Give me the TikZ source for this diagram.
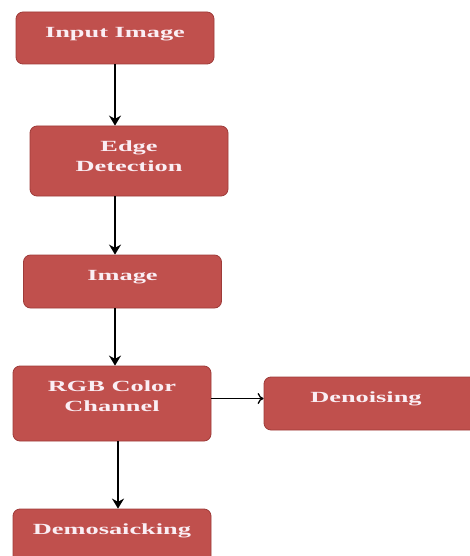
\documentclass[tikz,border=0pt]{standalone}
\usepackage{fontspec}
\usepackage{xcolor}
\usepackage{tikz}
\usetikzlibrary{arrows.meta,positioning}
\newfontfamily\boxfont[FakeStretch=1.7]{Liberation Serif}
\definecolor{boxred}{HTML}{C0504D}
\definecolor{boxedge}{HTML}{9E3B39}
\definecolor{boxtext}{HTML}{FAEEF4}

\begin{document}
\begin{tikzpicture}[x=1pt, y=-1pt,
  main/.style = {draw=boxedge, fill=boxred, line width=0.8pt, rounded corners=7pt, minimum width=198pt},
  txt/.style = {anchor=north, yshift=-12pt, align=center, text=boxtext, font=\boxfont\bfseries\fontsize{15.5}{20}\selectfont},
  arr/.style = {line width=1.6pt, -{Stealth[length=10pt,width=12pt]}}]
\useasboundingbox (0,0) rectangle (469,556);

\node[main, minimum height=52pt] (in) at (115,38) {};
\node[main, minimum height=70pt] (edge) at (129,161) {};
\node[main, minimum height=53pt] (img) at (122.5,281.5) {};
\node[main, minimum height=75pt] (rgb) at (112,403.5) {};
\node[main, minimum height=53pt, minimum width=214pt] (den) at (371,403.5) {};
\node[main, minimum height=56pt] (dem) at (112,537) {};

\node[txt] (inT) at (in.north) {Input Image};
\node[txt] (edgeT) at (edge.north) {Edge\\Detection};
\node[txt] (imgT) at (img.north) {Image};
\node[txt] (rgbT) at (rgb.north) {RGB Color\\Channel};
\node[txt] (denT) at ([xshift=-5pt]den.north) {Denoising};
\node[txt] (demT) at (dem.north) {Demosaicking};

\draw[arr] (in.south) -- (in.south |- edge.north);
\draw[arr] (edge.south -| in) -- (img.north -| in);
\draw[arr] (img.south -| in) -- (rgb.north -| in);
\draw[line width=1.3pt, -{To[length=6pt,width=11pt]}] ([yshift=5pt]rgb.east) -- ([yshift=5pt]rgb.east -| den.west);
\draw[arr] ([xshift=6pt]rgb.south) -- ([xshift=6pt]rgb.south |- dem.north);
\end{tikzpicture}
\end{document}
